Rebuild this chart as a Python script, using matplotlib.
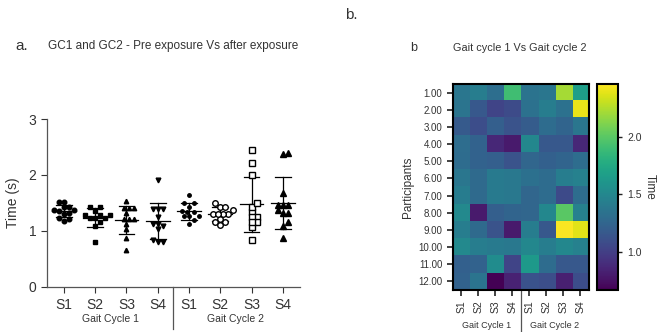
import numpy as np
import matplotlib
matplotlib.use('Agg')
import matplotlib.pyplot as plt

plt.rcParams['font.family'] = ['Liberation Sans', 'DejaVu Sans']

# time (s) per participant (rows 1..12) for each session
sessions = ['S1', 'S2', 'S3', 'S4', 'S1', 'S2', 'S3', 'S4']
groups = ['Gait Cycle 1', 'Gait Cycle 2']
participants = ['1.00', '2.00', '3.00', '4.00', '5.00', '6.00',
                '7.00', '8.00', '9.00', '10.00', '11.00', '12.00']

gc1_s1 = [1.37, 1.36, 1.18, 1.31, 1.30, 1.37, 1.42, 1.51, 1.43, 1.51, 1.22, 1.23]
gc1_s2 = [1.43, 1.16, 1.09, 1.23, 1.23, 1.29, 1.29, 0.80, 1.29, 1.43, 1.23, 1.36]
gc1_s3 = [1.32, 1.04, 1.21, 0.87, 1.21, 1.40, 1.40, 1.21, 1.13, 1.40, 1.54, 0.66]
gc1_s4 = [1.91, 1.08, 1.13, 0.80, 1.13, 1.39, 1.39, 1.25, 0.80, 1.39, 1.04, 0.84]
gc2_s1 = [1.35, 1.34, 1.19, 1.50, 1.26, 1.33, 1.26, 1.26, 1.43, 1.50, 1.64, 1.12]
gc2_s2 = [1.37, 1.43, 1.30, 1.16, 1.22, 1.30, 1.30, 1.50, 1.16, 1.43, 1.30, 1.10]
gc2_s3 = [2.22, 1.34, 1.25, 1.16, 1.25, 1.43, 1.07, 2.00, 2.45, 1.50, 1.16, 0.83]
gc2_s4 = [1.67, 2.40, 1.37, 0.87, 1.31, 1.46, 1.31, 1.46, 2.38, 1.46, 1.16, 1.09]

columns = [gc1_s1, gc1_s2, gc1_s3, gc1_s4, gc2_s1, gc2_s2, gc2_s3, gc2_s4]

markers = ['o', 's', '^', 'v', 'o', 'o', 's', '^']
msizes = [3.3, 3.2, 3.2, 3.4, 2.5, 4.0, 3.8, 5.0]
filled = [True, True, True, True, True, False, False, True]

ink = '#333333'


def swarm(vals, dx, dy, d):
    # simple beeswarm: place each point as close to centre as possible
    order = np.argsort(vals)
    placed = []
    offs = np.zeros(len(vals))
    for i in order:
        y = vals[i] * dy
        k = 0
        while True:
            cands = [0.0] if k == 0 else [k * d * 0.5, -k * d * 0.5]
            ok = None
            for c in cands:
                if all((c - px) ** 2 + (y - py) ** 2 >= d ** 2 for px, py in placed):
                    ok = c
                    break
            if ok is not None:
                break
            k += 1
        placed.append((ok, y))
        offs[i] = ok / dx
    return offs


fig = plt.figure(figsize=(6.58, 3.32), dpi=100)

# ---- panel a : scatter with mean +/- SD
ax = fig.add_axes([0.071, 0.1365, 0.385, 0.505])
xpx, ypx = 31.5, 55.9
for i, col in enumerate(columns):
    vals = np.array(col)
    offs = swarm(vals, xpx, ypx, 5.0)
    ax.plot(i + offs, vals, ls='none', marker=markers[i], ms=msizes[i],
            mfc='black' if filled[i] else 'white', mec='black', mew=1.0, zorder=3)
    m, sd = vals.mean(), vals.std(ddof=1)
    ax.plot([i - 0.38, i + 0.38], [m, m], color='black', lw=0.9, zorder=2)
    ax.plot([i, i], [m - sd, m + sd], color='black', lw=0.9, zorder=2)
    ax.plot([i - 0.25, i + 0.25], [m - sd, m - sd], color='black', lw=0.9, zorder=2)
    ax.plot([i - 0.25, i + 0.25], [m + sd, m + sd], color='black', lw=0.9, zorder=2)

ax.set_xlim(-0.55, 7.55)
ax.set_ylim(0, 3)
ax.set_yticks([0, 1, 2, 3])
ax.set_xticks(range(8))
ax.set_xticklabels(sessions, fontsize=10, color=ink)
ax.tick_params(axis='y', labelsize=10, colors=ink, length=4, width=0.8)
ax.tick_params(axis='x', colors=ink, length=4, width=0.8, pad=4)
ax.spines['top'].set_visible(False)
ax.spines['right'].set_visible(False)
for s in ['left', 'bottom']:
    ax.spines[s].set_color('#555555')
    ax.spines[s].set_linewidth(0.9)
ax.set_ylabel('Time (s)', fontsize=10, color=ink, labelpad=6)
ax.plot([3.5, 3.5], [0, -0.25], transform=ax.get_xaxis_transform(), color='#555555',
        lw=0.9, clip_on=False)
ax.text(1.5, -0.19, groups[0], transform=ax.get_xaxis_transform(), ha='center',
        va='center', fontsize=7.5, color=ink)
ax.text(5.5, -0.19, groups[1], transform=ax.get_xaxis_transform(), ha='center',
        va='center', fontsize=7.5, color=ink)

fig.text(15 / 658, 1 - 46 / 332, 'a.', fontsize=11, color=ink, va='center')
fig.text(173 / 658, 1 - 46 / 332, 'GC1 and GC2 - Pre exposure Vs after exposure',
         fontsize=8.5, color=ink, ha='center', va='center')
fig.text(345 / 658, 1 - 15 / 332, 'b.', fontsize=11, color=ink, va='center')

# ---- panel b : heatmap
data = np.array(columns).T
hx = fig.add_axes([0.688, 0.1265, 0.2067, 0.6205])
im = hx.imshow(data, cmap='viridis', vmin=0.67, vmax=2.46, aspect='auto')
hx.set_yticks(range(12))
hx.set_yticklabels(participants, fontsize=7, color=ink)
hx.set_xticks(range(8))
hx.set_xticklabels(sessions, fontsize=7.5, rotation=90, color=ink)
hx.tick_params(length=4, width=1.2, colors='#222222', labelcolor=ink)
for s in hx.spines.values():
    s.set_linewidth(1.5)
hx.set_ylabel('Participants', fontsize=8.5, color=ink, labelpad=3)
hx.plot([3.5, 3.5], [0, -0.21], transform=hx.get_xaxis_transform(),
        color='#555555', lw=0.9, clip_on=False)
hx.text(1.5, -0.17, groups[0], transform=hx.get_xaxis_transform(), ha='center',
        va='center', fontsize=6.5, color=ink)
hx.text(5.5, -0.17, groups[1], transform=hx.get_xaxis_transform(), ha='center',
        va='center', fontsize=6.5, color=ink)

cx = fig.add_axes([0.9073, 0.1265, 0.032, 0.6205])
cb = fig.colorbar(im, cax=cx, ticks=[1.0, 1.5, 2.0])
cb.outline.set_linewidth(1.5)
cx.tick_params(labelsize=7.5, length=3, width=1, colors='#222222', labelcolor=ink)
cb.set_label('Time', rotation=-90, fontsize=8.5, color=ink, labelpad=10)

fig.text(410 / 658, 1 - 48 / 332, 'b', fontsize=9, color=ink, va='center')
fig.text(520 / 658, 1 - 48 / 332, 'Gait cycle 1 Vs Gait cycle 2', fontsize=7.8,
         color=ink, ha='center', va='center')

fig.savefig('out.png', dpi=100)
